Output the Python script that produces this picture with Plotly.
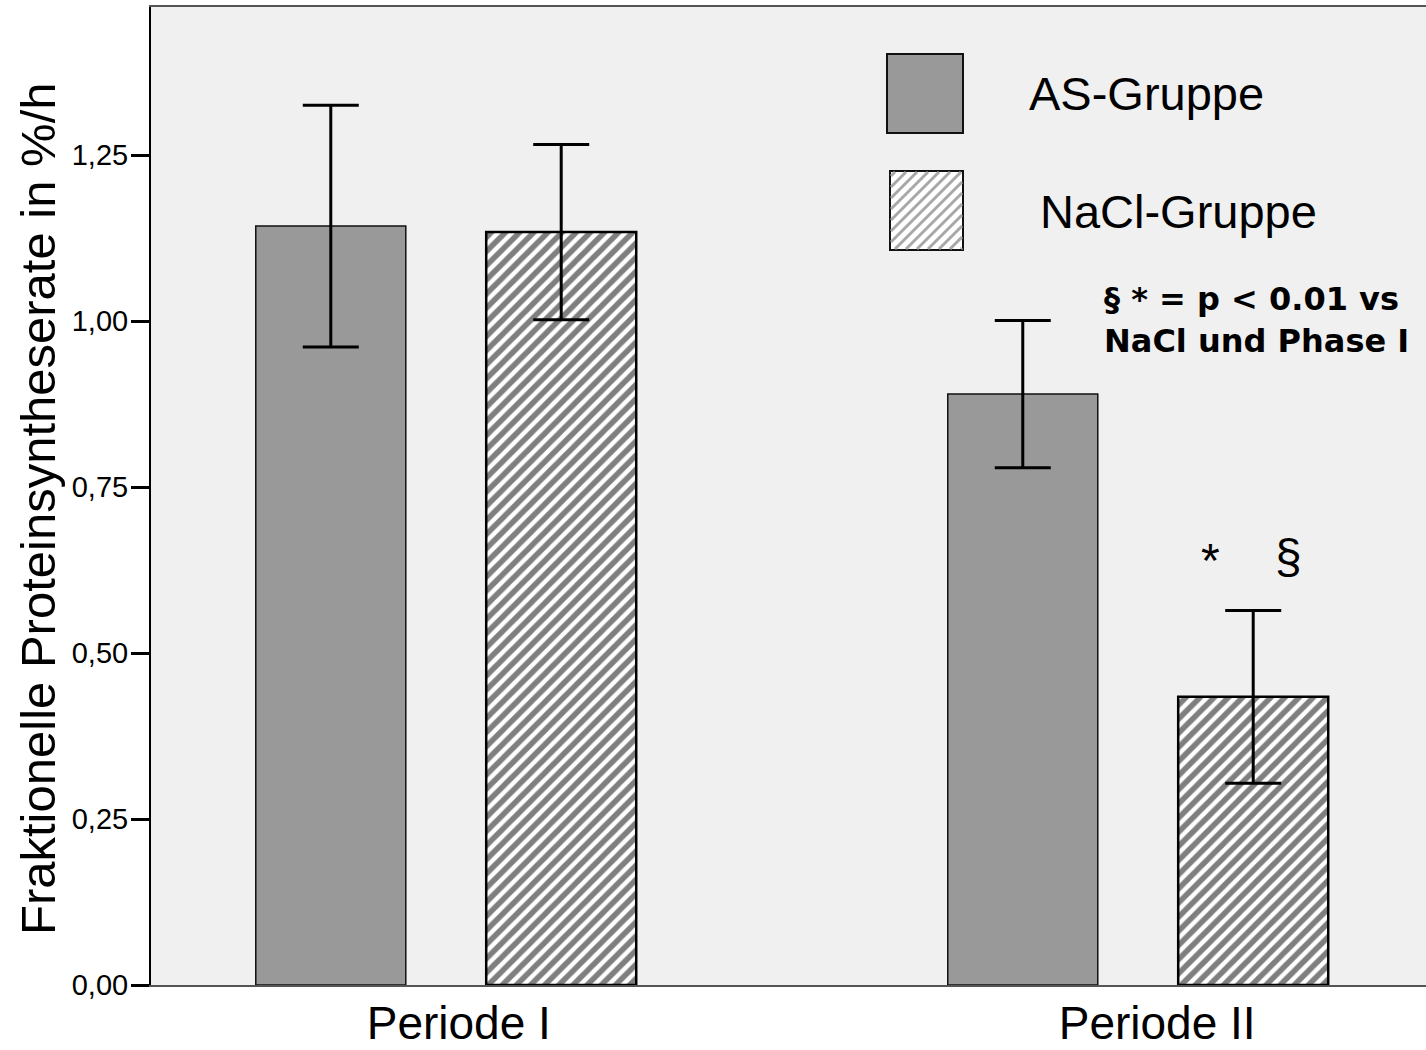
import plotly.graph_objects as go

# Data: fractional protein synthesis rate (%/h), mean and SE per period
perioden = ["Periode I", "Periode II"]
as_werte = [1.143, 0.890]
as_fehler = [0.182, 0.111]
nacl_werte = [1.134, 0.434]
nacl_fehler = [0.132, 0.130]
gruppen = ["AS-Gruppe", "NaCl-Gruppe"]
y_ticks = [0.0, 0.25, 0.5, 0.75, 1.0, 1.25]

W, H = 1426, 1050
ML, MR, MT, MB = 151, 0, 7, 65
PW, PH = W - ML - MR, H - MT - MB


def px(x):
    return (x - ML) / PW


def py(y):
    return (H - MB - y) / PH


fig = go.Figure()
fig.add_trace(go.Bar(
    x=perioden, y=as_werte, name=gruppen[0],
    marker=dict(color="#999999", line=dict(color="#111111", width=1.5)),
    error_y=dict(type="data", array=as_fehler, color="black", thickness=3, width=28),
))
fig.add_trace(go.Bar(
    x=perioden, y=nacl_werte, name=gruppen[1],
    marker=dict(color="white", line=dict(color="black", width=2.5),
                pattern=dict(shape="/", fgcolor="black", bgcolor="white",
                             size=10, solidity=0.55)),
    error_y=dict(type="data", array=nacl_fehler, color="black", thickness=3, width=28),
))

shapes = []
annotations = []

# Legend swatches
shapes.append(dict(type="rect", xref="paper", yref="paper",
                   x0=px(887), x1=px(963), y0=py(133), y1=py(54),
                   fillcolor="#999999", line=dict(color="#111111", width=2)))
shapes.append(dict(type="rect", xref="paper", yref="paper",
                   x0=px(890), x1=px(963), y0=py(250), y1=py(171),
                   fillcolor="white", line=dict(color="#111111", width=2)))
# hatch lines inside the NaCl swatch
x0s, x1s, y0s, y1s = 891, 962, 172, 249
step = 11
c = x0s + y0s + 4
while c < x1s + y1s:
    # line x + y = c, clipped to the square
    pts = []
    for xx in (x0s, x1s):
        yy = c - xx
        if y0s <= yy <= y1s:
            pts.append((xx, yy))
    for yy in (y0s, y1s):
        xx = c - yy
        if x0s <= xx <= x1s:
            pts.append((xx, yy))
    if len(pts) >= 2:
        (ax, ay), (bx, by) = pts[0], pts[-1]
        shapes.append(dict(type="line", xref="paper", yref="paper",
                           x0=px(ax), y0=py(ay), x1=px(bx), y1=py(by),
                           line=dict(color="#a8a8a8", width=3)))
    c += step

annotations.append(dict(x=px(1027), y=py(93), xref="paper", yref="paper",
                        text=gruppen[0], showarrow=False, xanchor="left", yanchor="middle",
                        font=dict(family="Liberation Sans, Arial", size=47, color="black")))
annotations.append(dict(x=px(1038), y=py(211), xref="paper", yref="paper",
                        text=gruppen[1], showarrow=False, xanchor="left", yanchor="middle",
                        font=dict(family="Liberation Sans, Arial", size=47, color="black")))
annotations.append(dict(x=px(1102), y=py(320), xref="paper", yref="paper",
                        text="<b>§ * = p < 0.01 vs<br>NaCl und Phase I</b>", showarrow=False,
                        xanchor="left", yanchor="middle", align="left",
                        font=dict(family="DejaVu Sans", size=32, color="black")))
annotations.append(dict(x=px(1210), y=py(560), xref="paper", yref="paper",
                        text="*", showarrow=False, xanchor="center", yanchor="middle",
                        font=dict(family="Liberation Sans, Arial", size=48, color="black")))
annotations.append(dict(x=px(1288), y=py(556), xref="paper", yref="paper",
                        text="§", showarrow=False, xanchor="center", yanchor="middle",
                        font=dict(family="Liberation Sans, Arial", size=48, color="black")))
# y axis title
annotations.append(dict(x=px(38), y=py(509), xref="paper", yref="paper",
                        text="Fraktionelle Proteinsyntheserate in %/h", showarrow=False,
                        textangle=-90, xanchor="center", yanchor="middle",
                        font=dict(family="Liberation Sans, Arial", size=49, color="black")))

fig.update_layout(
    width=W, height=H,
    margin=dict(l=ML, r=MR, t=MT, b=MB, pad=0, autoexpand=False),
    paper_bgcolor="white", plot_bgcolor="#f0f0f0",
    barmode="group", bargap=0.334, bargroupgap=0.349,
    showlegend=False,
    separators=",.",
    shapes=shapes, annotations=annotations,
    font=dict(family="Liberation Sans, Arial", color="black"),
)
fig.update_xaxes(
    type="category", range=[-0.4263, 1.4162],
    tickvals=perioden,
    ticktext=["\u00a0\u00a0" + perioden[0], "\u00a0\u00a0\u00a0" + perioden[1]],
    showline=True, linecolor="#555555", linewidth=2, mirror=True,
    ticks="", showgrid=False, zeroline=False, automargin=False,
    tickfont=dict(size=46, color="black"), ticklabelstandoff=-3,
)
fig.update_yaxes(
    range=[0, 1.473], tickvals=y_ticks, tickformat=".2f",
    showline=True, linecolor="black", linewidth=2, automargin=False,
    ticks="outside", ticklen=18, tickwidth=3, tickcolor="black",
    showgrid=False, zeroline=False,
    tickfont=dict(size=29, color="black"), ticklabelstandoff=-3,
)

fig.write_html("out.html")
